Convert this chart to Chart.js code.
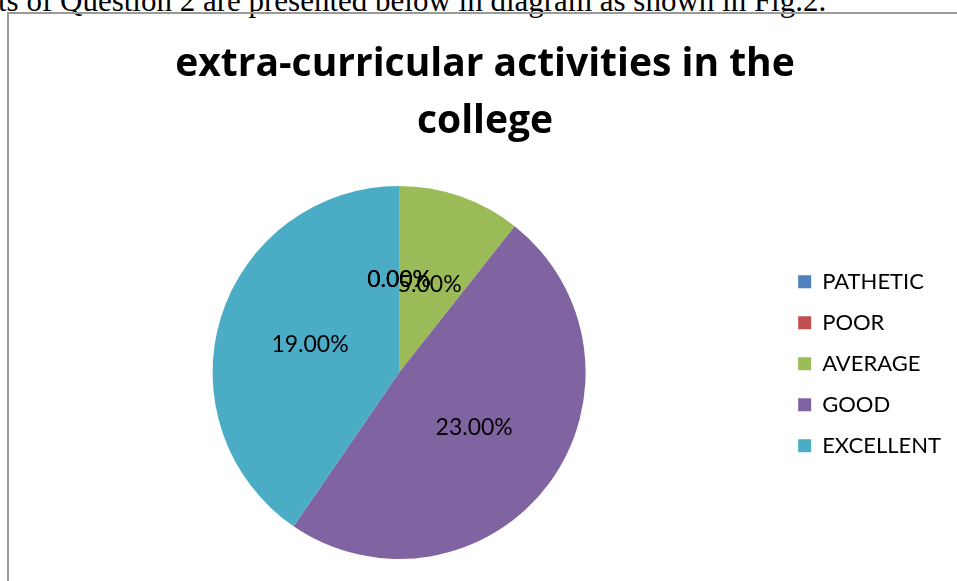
<!DOCTYPE html>
<html lang="en">
<head>
  <meta charset="UTF-8">
  <title>extra-curricular activities in the college</title>
  <script src="https://cdn.jsdelivr.net/npm/chart.js"></script>
  <style>
    html, body { margin: 0; padding: 0; background: #fff; overflow: hidden; }
    body { width: 957px; height: 581px; position: relative; }
    .caption {
      position: absolute; left: -2px; top: -14px;
      font-family: "Liberation Serif", "Times New Roman", serif;
      font-size: 31px; line-height: 30px; color: #000; white-space: nowrap;
    }
    .frame {
      position: absolute; left: 7px; top: 12px; width: 980px; height: 600px;
      border: 2px solid #9a9a9a; box-sizing: border-box;
    }
    #grafico { position: absolute; left: 0; top: 0; }
  </style>
</head>
<body>
  <div class="caption">ts of Question 2 are presented below in diagram as shown in Fig.2.</div>
  <div class="frame"></div>
  <canvas id="grafico" width="957" height="581"></canvas>

  <script>
    const categorias = ['PATHETIC', 'POOR', 'AVERAGE', 'GOOD', 'EXCELLENT'];
    const valores = [0, 0, 5, 23, 19];
    const cores = ['#4F81BD', '#C0504D', '#9BBB59', '#8064A2', '#4BACC6'];

    // rótulos de porcentagem no meio de cada fatia
    const rotulos = {
      id: 'rotulos',
      afterDatasetsDraw(chart) {
        const ctx = chart.ctx;
        const meta = chart.getDatasetMeta(0);
        ctx.save();
        ctx.font = '23px Lato';
        ctx.fillStyle = '#000';
        ctx.textAlign = 'center';
        ctx.textBaseline = 'middle';
        meta.data.forEach((arco, i) => {
          const p = arco.getCenterPoint();
          ctx.fillText(valores[i].toFixed(2) + '%', p.x, p.y);
        });
        ctx.restore();
      }
    };

    new Chart(document.getElementById('grafico'), {
      type: 'pie',
      data: {
        labels: categorias,
        datasets: [{
          data: valores,
          backgroundColor: cores,
          borderWidth: 0
        }]
      },
      options: {
        responsive: false,
        animation: false,
        layout: { padding: { left: 19, right: 6, top: 10, bottom: 22 } },
        plugins: {
          title: {
            display: true,
            text: ['extra-curricular activities in the', 'college'],
            color: '#000',
            font: { family: 'Open Sans', size: 39, weight: 'bold', lineHeight: '57px' },
            padding: { top: 26, bottom: 36 }
          },
          legend: {
            position: 'right',
            title: {
              display: true,
              text: ' ',
              font: { size: 22 },
              padding: { top: 132, bottom: 0 }
            },
            labels: {
              color: '#000',
              font: { family: 'Lato', size: 22 },
              boxWidth: 13,
              boxHeight: 13,
              padding: 19
            }
          },
          tooltip: { enabled: false }
        }
      },
      plugins: [rotulos]
    });
  </script>
</body>
</html>
